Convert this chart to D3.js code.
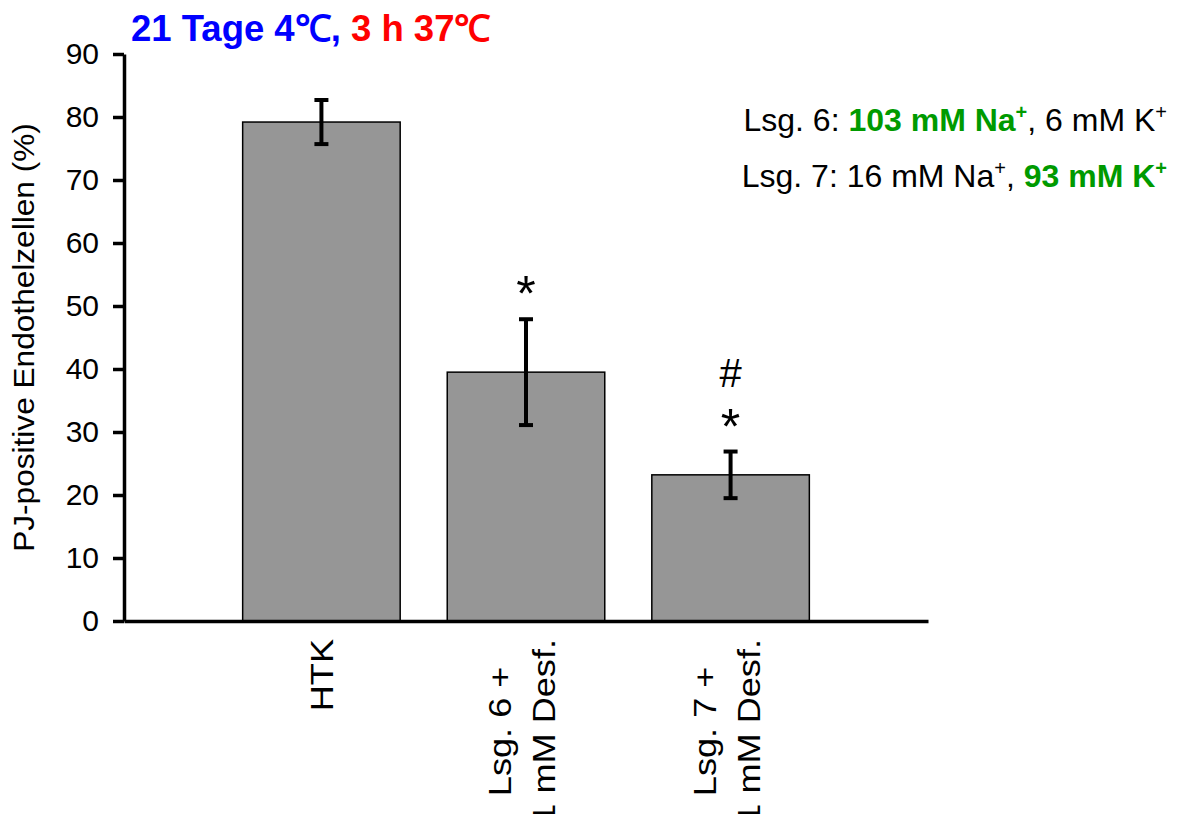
<!DOCTYPE html>
<meta charset="utf-8">
<style>

body {
  margin: 0;
  background: #fff;
}

svg text {
  font-family: "Liberation Sans", Arial, Helvetica, sans-serif;
}

.bar {
  fill: #969696;
  stroke: #000;
  stroke-width: 1.5px;
}

.err {
  stroke: #000;
  stroke-width: 4px;
  fill: none;
}

.axis path,
.axis line {
  stroke: #000;
  stroke-width: 3.5px;
}

</style>
<body><svg width="1178" height="814"></svg></body>
<script src="https://d3js.org/d3.v7.min.js"></script>
<script>

var categories = ["HTK", "Lsg. 6 +\n1 mM Desf.", "Lsg. 7 +\n1 mM Desf."];
var means = [79.2, 39.5, 23.2];
var errors = [3.5, 8.4, 3.7];
var marks = ["", "*", "#\n*"];
var yTicks = [0, 10, 20, 30, 40, 50, 60, 70, 80, 90];

var svg = d3.select("svg");

var x = d3.scaleBand()
    .domain(categories)
    .range([124, 928])
    .paddingInner(0.23)
    .paddingOuter(0.58);

var y = d3.scaleLinear()
    .domain([0, 90])
    .range([621, 54]);

// y axis
var yAxis = svg.append("g")
    .attr("class", "axis")
    .attr("transform", "translate(124,0)")
    .call(d3.axisLeft(y).tickValues(yTicks).tickSize(11).tickPadding(14).tickSizeOuter(0));

yAxis.selectAll("text")
    .style("font-size", "30px")
    .attr("fill", "#000");

// bars
svg.selectAll(".bar")
    .data(means)
  .enter().append("rect")
    .attr("class", "bar")
    .attr("x", function(d, i) { return x(categories[i]); })
    .attr("y", function(d) { return y(d); })
    .attr("width", x.bandwidth())
    .attr("height", function(d) { return y(0) - y(d); });

// error bars
var eb = svg.selectAll(".errbar")
    .data(means)
  .enter().append("g")
    .attr("class", "err")
    .attr("transform", function(d, i) { return "translate(" + (x(categories[i]) + x.bandwidth() / 2) + ",0)"; });

eb.append("line")
    .attr("y1", function(d, i) { return y(d + errors[i]); })
    .attr("y2", function(d, i) { return y(d - errors[i]); });

eb.append("line")
    .attr("x1", -7).attr("x2", 7)
    .attr("y1", function(d, i) { return y(d + errors[i]); })
    .attr("y2", function(d, i) { return y(d + errors[i]); });

eb.append("line")
    .attr("x1", -7).attr("x2", 7)
    .attr("y1", function(d, i) { return y(d - errors[i]); })
    .attr("y2", function(d, i) { return y(d - errors[i]); });

// x axis line (drawn over bar bottoms)
svg.append("g")
    .attr("class", "axis")
    .attr("transform", "translate(0," + y(0) + ")")
    .call(d3.axisBottom(x).tickSize(0).tickFormat(""))
    .select(".domain")
    .attr("stroke-width", 4);

// significance marks
marks.forEach(function(m, i) {
  if (!m) return;
  var lines = m.split("\n");
  var cx = x(categories[i]) + x.bandwidth() / 2;
  var base = y(means[i] + errors[i]) - 8;
  lines.forEach(function(t, j) {
    svg.append("text")
        .attr("x", cx)
        .attr("y", base - (lines.length - 1 - j) * 57)
        .attr("text-anchor", "middle")
        .style("font-size", t === "*" ? "50px" : "40px")
        .text(t);
  });
});

// category labels, rotated
categories.forEach(function(c, i) {
  var lines = c.split("\n");
  var cx = x(categories[i]) + x.bandwidth() / 2;
  var g = svg.append("g")
      .attr("transform", "translate(" + cx + ",639) rotate(-90) scale(1.13,1)");
  var t = g.append("text")
      .style("font-size", "32px")
      .attr("text-anchor", "middle");
  var offs = lines.length === 1 ? [11.5] : [-15, 29];
  var ts = t.selectAll("tspan")
      .data(lines)
    .enter().append("tspan")
      .attr("y", function(d, j) { return offs[j]; })
      .text(function(d) { return d; });
  var maxLen = d3.max(ts.nodes(), function(n) { return n.getComputedTextLength(); });
  ts.attr("x", -maxLen / 2);
});

// y label
svg.append("text")
    .attr("transform", "translate(34," + ((y(0) + y(90)) / 2) + ") rotate(-90) scale(1.09,1)")
    .attr("text-anchor", "middle")
    .style("font-size", "29px")
    .text("PJ-positive Endothelzellen (%)");

// title
var title = svg.append("text")
    .attr("x", 131)
    .attr("y", 41)
    .style("font-size", "36.5px")
    .style("font-weight", "bold");
title.append("tspan").attr("fill", "#0000ff").text("21 Tage 4\u2103, ");
title.append("tspan").attr("fill", "#ff0000").text("3 h 37\u2103");

// legend text
var green = "#009a00";
var legendRows = [
  [["Lsg. 6: ", "#000", false, false], ["103 mM Na", green, true, false], ["+", green, true, true],
   [", 6 mM K", "#000", false, false], ["+", "#000", false, true]],
  [["Lsg. 7: 16 mM Na", "#000", false, false], ["+", "#000", false, true], [", ", "#000", false, false],
   ["93 mM K", green, true, false], ["+", green, true, true]]
];

legendRows.forEach(function(row, r) {
  var t = svg.append("text")
      .attr("x", 1167)
      .attr("y", 131 + r * 56)
      .attr("text-anchor", "end")
      .style("font-size", "32px");
  var up = false;
  row.forEach(function(p) {
    var s = t.append("tspan")
        .attr("fill", p[1])
        .style("font-weight", p[2] ? "bold" : "normal")
        .text(p[0]);
    if (p[3]) {
      s.style("font-size", "20px").attr("dy", -12);
      up = true;
    } else if (up) {
      s.attr("dy", 12);
      up = false;
    }
  });
});

</script>
